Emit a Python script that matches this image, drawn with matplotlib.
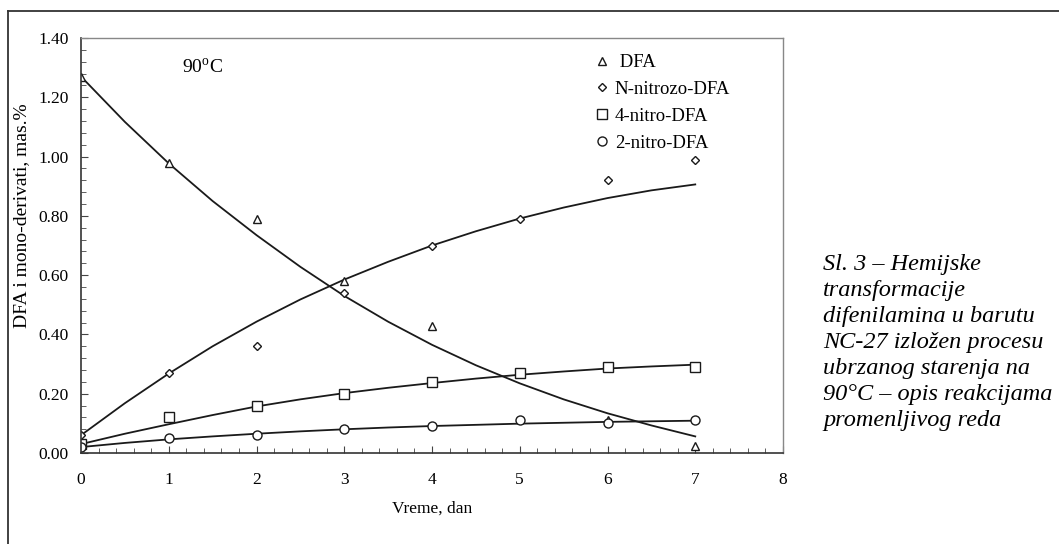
import numpy as np
import matplotlib
matplotlib.use("Agg")
import matplotlib.pyplot as plt
from matplotlib.lines import Line2D
from matplotlib.ticker import MultipleLocator, FormatStrFormatter

plt.rcParams['font.family'] = ['Liberation Serif', 'DejaVu Serif']
plt.rcParams['mathtext.fontset'] = 'custom'
plt.rcParams['mathtext.rm'] = 'Liberation Serif'

# measured points
days = [0, 1, 2, 3, 4, 5, 6, 7]
dfa = [1.27, 0.98, 0.79, 0.58, 0.43, 0.27, 0.11, 0.025]
nitrozo = [0.06, 0.27, 0.36, 0.54, 0.70, 0.79, 0.92, 0.99]
nitro4 = [0.03, 0.12, 0.16, 0.20, 0.24, 0.27, 0.29, 0.29]
nitro2 = [0.02, 0.05, 0.06, 0.08, 0.09, 0.11, 0.10, 0.11]

# fitted curves, every half day
t_fit = [0, 0.5, 1, 1.5, 2, 2.5, 3, 3.5, 4, 4.5, 5, 5.5, 6, 6.5, 7]
dfa_fit = [1.27, 1.117, 0.977, 0.850, 0.735, 0.628, 0.530, 0.443, 0.365,
           0.296, 0.235, 0.181, 0.134, 0.093, 0.056]
nitrozo_fit = [0.06, 0.168, 0.268, 0.36, 0.443, 0.518, 0.585, 0.645, 0.70,
               0.748, 0.791, 0.828, 0.86, 0.886, 0.906]
nitro4_fit = [0.03, 0.065, 0.097, 0.128, 0.157, 0.181, 0.202, 0.22, 0.236,
              0.251, 0.264, 0.275, 0.285, 0.292, 0.298]
nitro2_fit = [0.02, 0.034, 0.046, 0.056, 0.065, 0.073, 0.08, 0.086, 0.091,
              0.095, 0.099, 0.102, 0.105, 0.107, 0.109]

labels = [' DFA', 'N-nitrozo-DFA', '4-nitro-DFA', '2-nitro-DFA']

fig = plt.figure(figsize=(10.59, 5.44), dpi=100)
ax = fig.add_axes([81/1059, 1-453/544, (783-81)/1059, (453-38)/544])

for yf in [dfa_fit, nitrozo_fit, nitro4_fit, nitro2_fit]:
    ax.plot(t_fit, yf, color='#1a1a1a', lw=1.3)

mk = dict(ls='none', mfc='white', mec='#1a1a1a', mew=1.0)
ax.plot(days, dfa, marker='^', ms=6, label=labels[0], **mk)
ax.plot(days, nitrozo, marker='D', ms=4.5, label=labels[1], **mk)
ax.plot(days, nitro4, marker='s', ms=6.5, label=labels[2], **mk)
ax.plot(days, nitro2, marker='o', ms=6.5, label=labels[3], **mk)

ax.set_xlim(0, 8)
ax.set_ylim(0, 1.4)
ax.xaxis.set_major_locator(MultipleLocator(1))
ax.xaxis.set_minor_locator(MultipleLocator(0.2))
ax.yaxis.set_major_locator(MultipleLocator(0.2))
ax.yaxis.set_minor_locator(MultipleLocator(0.04))
ax.yaxis.set_major_formatter(FormatStrFormatter('%.2f'))

ax.tick_params(which='both', direction='in', top=False, right=False,
               color='#444444', labelsize=12.5)
ax.tick_params(which='major', length=5)
ax.tick_params(which='minor', length=3.5)
ax.tick_params(axis='x', pad=14)
ax.tick_params(axis='y', pad=9)
for s in ['left', 'bottom']:
    ax.spines[s].set_color('#333333')
    ax.spines[s].set_linewidth(1.2)
for s in ['top', 'right']:
    ax.spines[s].set_color('#888888')
    ax.spines[s].set_linewidth(1.0)

ax.set_xlabel('Vreme, dan', fontsize=12.5, labelpad=9)
ax.set_ylabel('DFA i mono-derivati, mas.%', fontsize=14)
ax.yaxis.set_label_coords(-0.072, 0.573)

ax.text(1.15, 1.30, '90$^{\\rm o}$C', fontsize=14, va='center', ha='left')

fig.legend(loc='upper left', bbox_to_anchor=(594/1059, 1-54/544),
           frameon=False, fontsize=13.5, handlelength=0.9,
           handletextpad=0.2, labelspacing=0.52, borderpad=0,
           borderaxespad=0)

caption = ('Sl. 3 \u2013 Hemijske\ntransformacije\ndifenilamina u barutu\n'
           'NC-27 izložen procesu\nubrzanog starenja na\n'
           '90°C \u2013 opis reakcijama\npromenljivog reda')
fig.text(823/1059, 1-254/544, caption, fontsize=17.5, style='italic',
         va='top', ha='left', linespacing=1.31)

# outer frame (top and left edges)
fig.add_artist(Line2D([8/1059, 1], [1-11/544, 1-11/544],
                      transform=fig.transFigure, color='#333333', lw=1.3))
fig.add_artist(Line2D([8/1059, 8/1059], [0, 1-11/544],
                      transform=fig.transFigure, color='#333333', lw=1.3))

fig.savefig('out.png', dpi=100)
